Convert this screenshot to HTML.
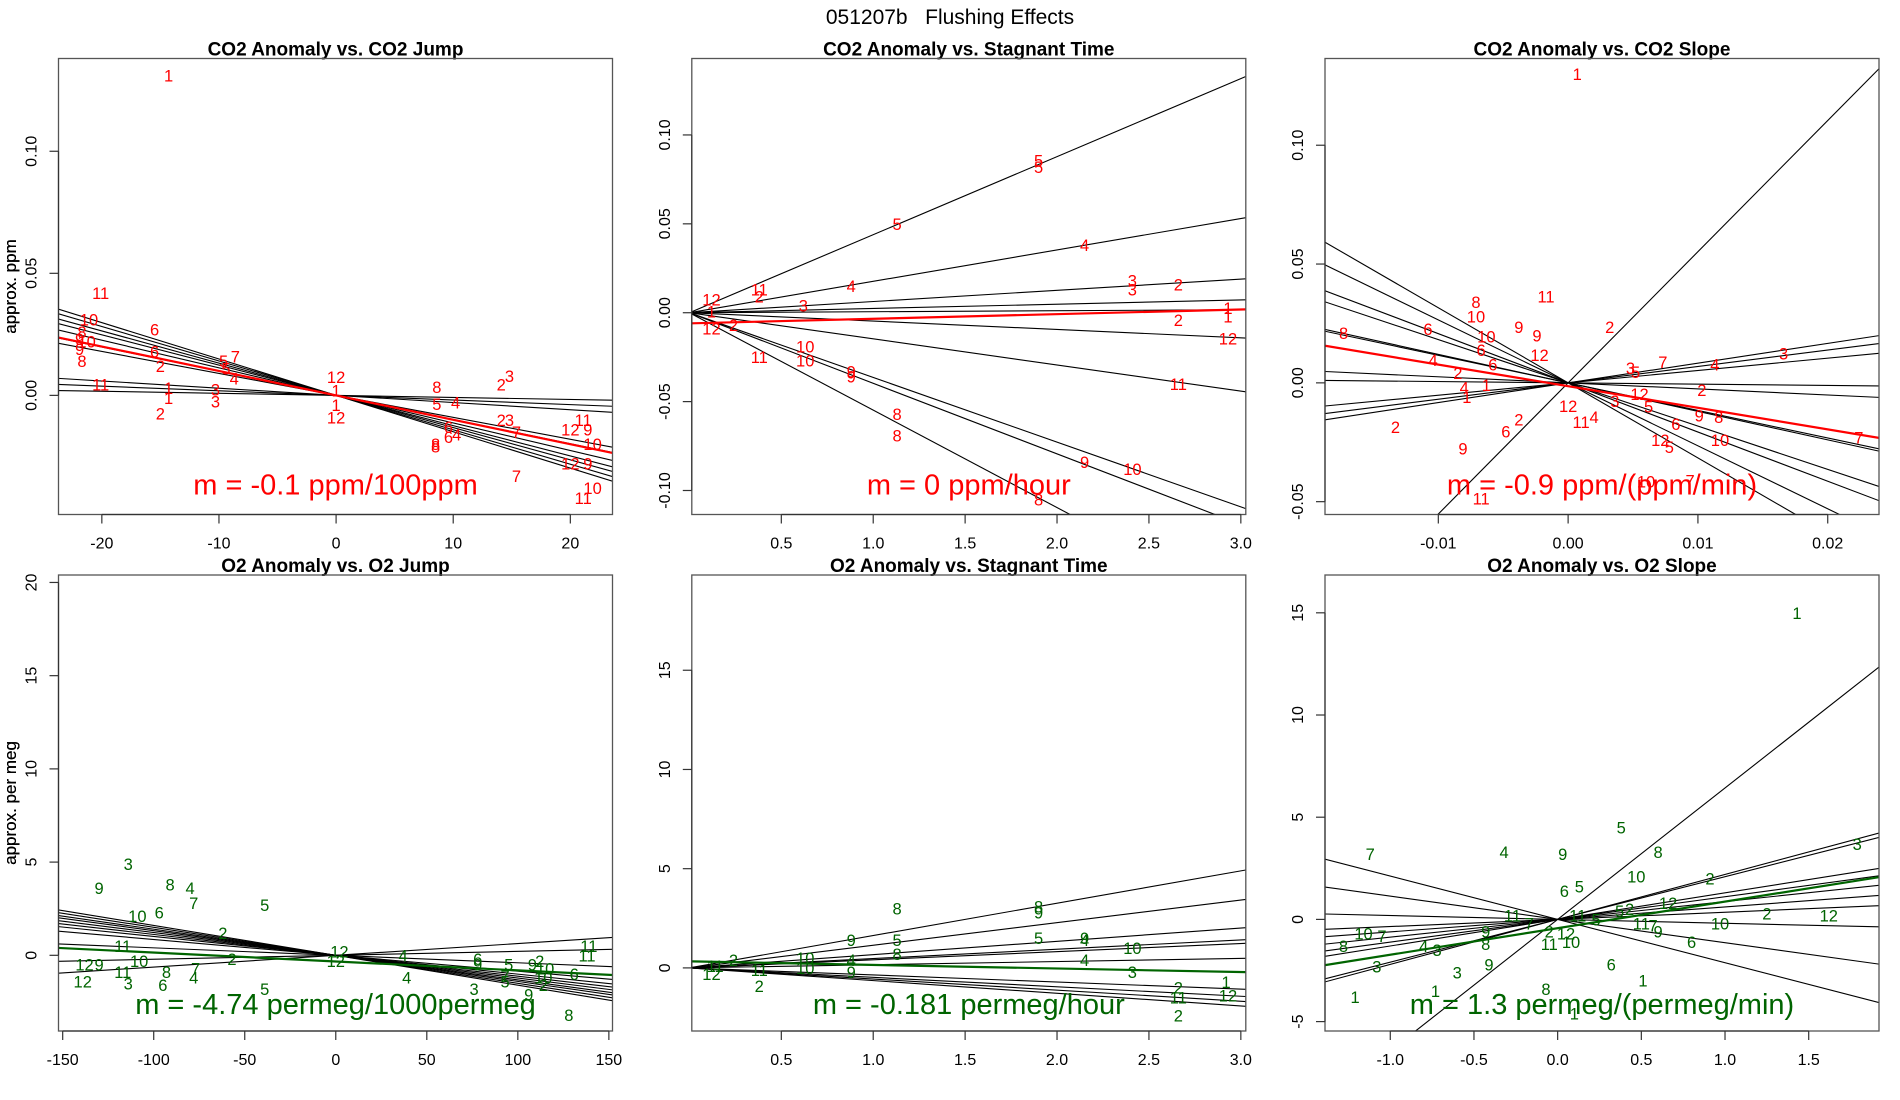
<!DOCTYPE html>
<html><head><meta charset="utf-8">
<style>
html,body{margin:0;padding:0;background:#fff;}
svg{display:block;font-family:"Liberation Sans",sans-serif;}
</style></head>
<body>
<svg id="fig" width="1900" height="1100" viewBox="0 0 1900 1100" xmlns="http://www.w3.org/2000/svg">
<rect x="0" y="0" width="1900" height="1100" fill="#fff"/>
<text x="950" y="24" text-anchor="middle" font-size="21" style="white-space:pre" xml:space="preserve">051207b   Flushing Effects</text>
</svg>
<script>
// ---------- Panel 1: CO2 Anomaly vs CO2 Jump ----------
const p1Labels=[1,11,10,6,8,9,10,9,8,6,2,5,7,5,4,11,1,1,3,3,2,12,1,1,12,8,5,4,2,3,2,3,7,6,6,4,8,8,11,12,9,10,12,9,7,10,11];
const p1X=[-14.3,-20.1,-21.1,-15.5,-21.7,-21.9,-21.3,-21.9,-21.7,-15.5,-15,-9.6,-8.6,-9.4,-8.7,-20.1,-14.3,-14.3,-10.3,-10.3,-15,0,0,0,0,8.6,8.6,10.2,14.1,14.8,14.1,14.8,15.4,9.6,9.6,10.3,8.5,8.5,21.1,20,21.5,21.9,20,21.5,15.4,21.9,21.1];
const p1Y=[0.131,0.042,0.031,0.027,0.026,0.023,0.022,0.019,0.014,0.018,0.012,0.014,0.016,0.011,0.007,0.0045,0.003,-0.001,0.0025,-0.0025,-0.0075,0.0075,0.002,-0.004,-0.009,0.0035,-0.0035,-0.003,0.0045,0.008,-0.010,-0.010,-0.015,-0.013,-0.017,-0.016,-0.020,-0.021,-0.010,-0.014,-0.014,-0.020,-0.028,-0.028,-0.033,-0.038,-0.042];
const p1Slopes=[-0.00149,-0.00141,-0.00132,-0.00124,-0.00113,-0.00099,-0.00090,-0.000294,-0.000189,-0.000084];
const p1Fit=[-0.00100,0];
// ---------- Panel 2: CO2 Anomaly vs Stagnant Time ----------
const p2Labels=[5,5,5,4,4,3,3,2,2,1,1,12,3,12,11,2,1,2,12,11,10,10,9,9,8,8,11,9,10,8];
const p2X=[1.90,1.90,1.13,2.15,0.88,2.41,2.41,2.66,2.66,2.93,2.93,2.93,0.62,0.12,0.38,0.38,0.12,0.24,0.12,0.38,0.63,0.63,0.88,0.88,1.13,1.13,2.66,2.15,2.41,1.90];
const p2Y=[0.0856,0.082,0.050,0.038,0.015,0.018,0.013,0.0158,-0.004,0.0027,-0.002,-0.0144,0.004,0.0075,0.013,0.009,0.0007,-0.007,-0.009,-0.025,-0.019,-0.027,-0.033,-0.036,-0.057,-0.069,-0.040,-0.084,-0.088,-0.105];
const p2Slopes=[0.0439,0.01766,0.0063,0.0024,0.00056,-0.00471,-0.0147,-0.0364,-0.0397,-0.0548];
const p2Fit=[0.0026,-0.006];
// ---------- Panel 3: CO2 Anomaly vs CO2 Slope ----------
const p3Labels=[1,11,8,10,2,6,10,9,9,8,6,12,4,6,2,1,4,1,2,6,2,9,11,3,5,7,4,3,12,2,5,12,4,11,3,6,9,8,12,5,10,7,10,7];
const p3X=[0.0007,-0.0017,-0.0071,-0.0071,0.0032,-0.0108,-0.0063,-0.0038,-0.0024,-0.0173,-0.0067,-0.0022,-0.0104,-0.0058,-0.0085,-0.0063,-0.008,-0.0078,-0.0038,-0.0048,-0.0133,-0.0081,-0.0067,0.0048,0.0052,0.0073,0.0113,0.0166,0.0055,0.0103,0.0062,0,0.002,0.001,0.0036,0.0083,0.0101,0.0116,0.0071,0.0078,0.0117,0.0224,0.006,0.0094];
const p3Y=[0.130,0.0364,0.034,0.028,0.0236,0.0226,0.0195,0.0236,0.020,0.021,0.0138,0.0118,0.0097,0.0077,0.0041,-0.001,-0.002,-0.006,-0.0154,-0.0205,-0.0185,-0.0277,-0.0487,0.0062,0.0046,0.0087,0.0077,0.0123,-0.0046,-0.003,-0.010,-0.0097,-0.0144,-0.0164,-0.0077,-0.0174,-0.0138,-0.0144,-0.024,-0.027,-0.024,-0.023,-0.0415,-0.041];
const p3Slopes=[5.52,-3.16,-2.65,-2.07,-1.82,-1.20,-1.16,-0.255,-0.055,0.52,0.69,0.83];
const p3Fit=[-0.909,-0.0014];
// ---------- Panel 4: O2 Anomaly vs O2 Jump ----------
const p4Labels=[9,3,8,4,7,5,10,6,2,11,12,9,10,2,7,8,11,12,3,6,4,5,12,12,4,4,6,9,5,9,2,10,7,5,3,9,2,6,11,11,8,10];
const p4X=[-130,-114,-91,-80,-78,-39,-109,-97,-62,-117,-138,-130,-108,-57,-77,-93,-117,-139,-114,-95,-78,-39,2,0,37,39,78,78,95,108,112,115,93,93,76,106,114,131,139,138,128,114];
const p4Y=[3.6,4.9,3.8,3.6,2.8,2.7,2.1,2.3,1.2,0.5,-0.5,-0.5,-0.3,-0.2,-0.7,-0.9,-0.9,-1.4,-1.5,-1.6,-1.2,-1.8,0.2,-0.3,0,-1.2,-0.2,-0.5,-0.5,-0.5,-0.3,-0.7,-1.1,-1.4,-1.8,-2.1,-1.6,-1.0,0.5,0,-3.2,-1.2];
const p4Slopes=[-0.016,-0.015,-0.014,-0.0132,-0.0122,-0.0112,-0.0101,-0.0085,-0.004,0.0021,0.0063];
const p4Fit=[-0.00477,-0.33];
// ---------- Panel 5: O2 Anomaly vs Stagnant Time ----------
const p5Labels=[8,8,9,9,5,5,9,4,8,10,4,10,2,4,3,9,10,11,2,12,1,12,2,11,2,11];
const p5X=[1.13,1.90,1.90,0.88,1.13,1.90,2.15,2.15,1.13,2.41,0.88,0.63,0.24,2.15,2.41,0.88,0.63,0.38,0.38,0.12,2.92,2.93,2.66,2.66,2.66,0.14];
const p5Y=[3.0,3.1,2.8,1.4,1.4,1.5,1.5,1.4,0.7,1.0,0.4,0.5,0.4,0.4,-0.2,-0.2,0,-0.1,-0.9,-0.3,-0.7,-1.4,-1.0,-1.5,-2.4,0.1];
const p5Slopes=[1.63,1.14,0.67,0.47,0.41,0.16,-0.356,-0.476,-0.56,-0.64];
const p5Fit=[-0.18,0.33];
// ---------- Panel 6: O2 Anomaly vs O2 Slope ----------
const p6Labels=[1,5,7,4,9,8,3,10,2,6,5,11,7,11,5,5,2,12,2,12,10,11,7,9,6,9,8,10,7,8,4,3,2,12,11,10,3,9,3,6,1,1,8,1,1];
const p6X=[1.43,0.38,-1.12,-0.32,0.03,0.6,1.79,0.47,0.91,0.04,0.13,-0.27,-0.17,0.12,0.23,0.37,0.43,0.66,1.25,1.62,0.97,0.5,0.57,0.6,0.8,-0.43,-0.43,-1.16,-1.05,-1.28,-0.8,-0.72,-0.05,0.05,-0.05,0.08,-1.08,-0.41,-0.6,0.32,0.51,-1.21,-0.07,0.1,-0.73];
const p6Y=[15.0,4.5,3.2,3.3,3.2,3.3,3.7,2.1,2.0,1.4,1.6,0.2,-0.2,0.2,0,0.4,0.5,0.8,0.3,0.2,-0.2,-0.2,-0.3,-0.6,-1.1,-0.6,-1.2,-0.7,-0.8,-1.3,-1.3,-1.5,-0.6,-0.7,-1.2,-1.1,-2.3,-2.2,-2.6,-2.2,-3.0,-3.8,-3.4,-4.6,-3.5];
const p6Slopes=[6.43,2.2,2.09,1.30,1.11,0.87,0.61,0.35,-0.19,-1.14,-2.12];
const p6Fit=[1.30,-0.43];

const NS='http://www.w3.org/2000/svg';
const svg=document.getElementById('fig');
const RED='#ff0000', GREEN='#006400';
function mk(tag,attrs,parent){const e=document.createElementNS(NS,tag);for(const k in attrs)e.setAttribute(k,attrs[k]);(parent||svg).appendChild(e);return e;}

const panels=[
 {id:'co2-jump',title:'CO2 Anomaly vs. CO2 Jump',ylab:'approx. ppm',box:[58.5,58.5,612.5,514.5],xd:[-23.7,23.6],yd:[-0.0488,0.138],
  xt:[-20,-10,0,10,20],xtl:['-20','-10','0','10','20'],yt:[0,0.05,0.1],ytl:['0.00','0.05','0.10'],
  labels:p1Labels,xs:p1X,ys:p1Y,slopes:p1Slopes,fit:p1Fit,col:RED,mtext:'m = -0.1 ppm/100ppm'},
 {id:'co2-stagnant',title:'CO2 Anomaly vs. Stagnant Time',ylab:'approx. ppm',box:[691.8,58.5,1245.8,514.5],xd:[0.013,3.027],yd:[-0.1135,0.143],
  xt:[0.5,1,1.5,2,2.5,3],xtl:['0.5','1.0','1.5','2.0','2.5','3.0'],yt:[-0.1,-0.05,0,0.05,0.1],ytl:['-0.10','-0.05','0.00','0.05','0.10'],
  labels:p2Labels,xs:p2X,ys:p2Y,slopes:p2Slopes,fit:p2Fit,col:RED,mtext:'m = 0 ppm/hour'},
 {id:'co2-slope',title:'CO2 Anomaly vs. CO2 Slope',ylab:'approx. ppm',box:[1325,58.5,1879,514.5],xd:[-0.01873,0.02395],yd:[-0.0554,0.1365],
  xt:[-0.01,0,0.01,0.02],xtl:['-0.01','0.00','0.01','0.02'],yt:[-0.05,0,0.05,0.1],ytl:['-0.05','0.00','0.05','0.10'],
  labels:p3Labels,xs:p3X,ys:p3Y,slopes:p3Slopes,fit:p3Fit,col:RED,mtext:'m = -0.9 ppm/(ppm/min)'},
 {id:'o2-jump',title:'O2 Anomaly vs. O2 Jump',ylab:'approx. per meg',box:[58.5,575,612.5,1031],xd:[-152.3,152],yd:[-4.06,20.4],
  xt:[-150,-100,-50,0,50,100,150],xtl:['-150','-100','-50','0','50','100','150'],yt:[0,5,10,15,20],ytl:['0','5','10','15','20'],
  labels:p4Labels,xs:p4X,ys:p4Y,slopes:p4Slopes,fit:p4Fit,col:GREEN,mtext:'m = -4.74 permeg/1000permeg'},
 {id:'o2-stagnant',title:'O2 Anomaly vs. Stagnant Time',ylab:'approx. per meg',box:[691.8,575,1245.8,1031],xd:[0.013,3.027],yd:[-3.18,19.8],
  xt:[0.5,1,1.5,2,2.5,3],xtl:['0.5','1.0','1.5','2.0','2.5','3.0'],yt:[0,5,10,15],ytl:['0','5','10','15'],
  labels:p5Labels,xs:p5X,ys:p5Y,slopes:p5Slopes,fit:p5Fit,col:GREEN,mtext:'m = -0.181 permeg/hour'},
 {id:'o2-slope',title:'O2 Anomaly vs. O2 Slope',ylab:'approx. per meg',box:[1325,575,1879,1031],xd:[-1.39,1.92],yd:[-5.46,16.85],
  xt:[-1,-0.5,0,0.5,1,1.5],xtl:['-1.0','-0.5','0.0','0.5','1.0','1.5'],yt:[-5,0,5,10,15],ytl:['-5','0','5','10','15'],
  labels:p6Labels,xs:p6X,ys:p6Y,slopes:p6Slopes,fit:p6Fit,col:GREEN,mtext:'m = 1.3 permeg/(permeg/min)'}
];

const defs=mk('defs',{});
panels.forEach((p,i)=>{
  const [L,T,R,B]=p.box;
  const sx=v=>L+(v-p.xd[0])/(p.xd[1]-p.xd[0])*(R-L);
  const sy=v=>B-(v-p.yd[0])/(p.yd[1]-p.yd[0])*(B-T);
  const g=mk('g',{});
  
  
  const cp=mk('clipPath',{id:'clip'+i},defs);
  mk('rect',{x:L,y:T,width:R-L,height:B-T},cp);
  const t=mk('text',{x:(L+R)/2,y:T-3,'text-anchor':'middle','font-size':19,'font-weight':'bold'},g);
  t.textContent=p.title;
  
  
  const yl=mk('text',{x:0,y:0,'text-anchor':'middle','font-size':17,'font-weight':'normal',transform:`translate(16,${(T+B)/2}) rotate(-90)`},g);
  yl.textContent=p.ylab;
  
  
  const lg=mk('g',{'clip-path':`url(#clip${i})`},g);
  
  
  p.slopes.forEach(s=>{
    const ln=mk('line',{x1:sx(p.xd[0]),y1:sy(s*p.xd[0]),x2:sx(p.xd[1]),y2:sy(s*p.xd[1]),stroke:'#000','stroke-width':1.1},lg);
    
    
  });
  const f=mk('line',{x1:sx(p.xd[0]),y1:sy(p.fit[0]*p.xd[0]+p.fit[1]),x2:sx(p.xd[1]),y2:sy(p.fit[0]*p.xd[1]+p.fit[1]),stroke:p.col,'stroke-width':2.2},lg);
  
  
  const pg=mk('g',{'clip-path':`url(#clip${i})`},g);
  p.labels.forEach((lab,k)=>{
    const tx=mk('text',{x:sx(p.xs[k]),y:sy(p.ys[k])+6,'text-anchor':'middle','font-size':16.5,fill:p.col},pg);
    tx.textContent=lab;
    
    
  });
  const mt=mk('text',{x:(L+R)/2,y:B-(i<3?20:17),'text-anchor':'middle','font-size':29,fill:p.col},g);
  mt.textContent=p.mtext;
  
  
  const bx=mk('rect',{x:L,y:T,width:R-L,height:B-T,fill:'none',stroke:'#555','stroke-width':1.3},g);
  
  
  const xa=mk('g',{},g);
  
  
  mk('line',{x1:sx(p.xt[0]),y1:B,x2:sx(p.xt[p.xt.length-1]),y2:B,stroke:'#333','stroke-width':1.2},xa);
  p.xt.forEach((v,k)=>{
    mk('line',{x1:sx(v),y1:B,x2:sx(v),y2:B+9,stroke:'#333','stroke-width':1.2},xa);
    const tl=mk('text',{x:sx(v),y:B+34,'text-anchor':'middle','font-size':16},xa);
    tl.textContent=p.xtl[k];
    
    
  });
  const ya=mk('g',{},g);
  
  
  mk('line',{x1:L,y1:sy(p.yt[0]),x2:L,y2:sy(p.yt[p.yt.length-1]),stroke:'#333','stroke-width':1.2},ya);
  p.yt.forEach((v,k)=>{
    mk('line',{x1:L-9,y1:sy(v),x2:L,y2:sy(v),stroke:'#333','stroke-width':1.2},ya);
    const tl=mk('text',{x:0,y:0,'text-anchor':'middle','font-size':16,transform:`translate(${L-22},${sy(v)}) rotate(-90)`},ya);
    tl.textContent=p.ytl[k];
    
    
  });
});
</script>
</body></html>
